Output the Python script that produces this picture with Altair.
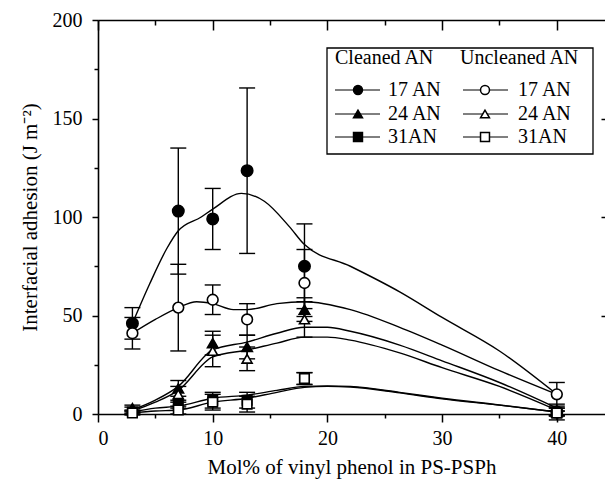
import altair as alt
import pandas as pd

# ---------------- data ----------------
x_pts = [3, 7, 10, 13, 18, 40]

cleaned_17 = [46, 103, 99, 123.5, 75, 1]
cleaned_17_err = [8, 32, 15.5, 42, 21.5, 4]
uncleaned_17 = [41, 54, 58, 48, 66.5, 10]
uncleaned_17_err = [8, 22, 7.5, 8, 17, 6]
cleaned_24 = [3, 13, 36, 34, 53, 1]
cleaned_24_err = [1.5, 4, 6, 6, 6, 2]
uncleaned_24 = [2, 10, 32, 28, 48, 1]
uncleaned_24_err = [1.5, 4, 8, 6, 9, 2]
cleaned_31 = [1, 5, 7, 7, 18, 0.5]
cleaned_31_err = [1, 2, 4, 4, 3, 1]
uncleaned_31 = [0.5, 2, 6, 5, 18, 0.5]
uncleaned_31_err = [1, 2, 4, 4, 3, 1]

# fitted curves
curve_x_c17 = [3, 4.5, 6, 7, 9, 10, 12.5, 14.5, 16.7, 18, 22, 26.3, 30, 35, 40]
curve_c17 = [46, 66, 84, 93, 100, 104, 112, 108, 95, 86, 75, 62, 49, 32, 10]
curve_x_u17 = [3, 5, 7, 8.6, 10, 11.8, 13, 15.6, 18, 22, 26.3, 30, 35, 40]
curve_u17 = [41, 48, 54, 57, 56, 53, 53, 56, 57, 53, 44, 35, 22, 10]
curve_x = [3, 5, 7, 10, 13, 15.6, 18, 20, 22, 26.3, 30, 35, 40]
curve_c24 = [2, 7, 14, 32.5, 36.5, 41, 44, 44, 42, 35, 27, 16, 3]
curve_u24 = [1.5, 6, 12, 29, 32.5, 36, 39, 39, 37.5, 31, 23.5, 14, 2]
curve_c31 = [1, 3, 4, 8, 9.6, 12, 14, 14.3, 14, 11, 8, 4.6, 1]
curve_u31 = [0.5, 1.5, 2, 6, 8, 11, 13.5, 14, 13.7, 10.7, 7.7, 4.5, 1]

x_major = [0, 10, 20, 30, 40]
x_minor = [5, 15, 25, 35]
y_major = [0, 50, 100, 150, 200]
y_minor = [25, 75, 125, 175]

legend_headers = ["Cleaned AN", "Uncleaned AN"]
legend_labels = ["17 AN", "24 AN", "31AN"]

x_title = "Mol% of vinyl phenol in PS-PSPh"
y_title = "Interfacial adhesion (J m\u207b\u00b2)"

# ---------------- styling ----------------
FONT = "Liberation Serif"
W, H = 507, 394
XS = alt.Scale(domain=[0, 44.2], nice=False, zero=False)
YS = alt.Scale(domain=[0, 200], nice=False, zero=False)

series = [
    (cleaned_17, cleaned_17_err, "circle", "black", 130),
    (uncleaned_17, uncleaned_17_err, "circle", "white", 115),
    (cleaned_24, cleaned_24_err, "triangle-up", "black", 110),
    (uncleaned_24, uncleaned_24_err, "triangle-up", "white", 100),
    (cleaned_31, cleaned_31_err, "square", "black", 90),
    (uncleaned_31, uncleaned_31_err, "square", "white", 90),
]
curves = [
    (curve_x_c17, curve_c17), (curve_x_u17, curve_u17),
    (curve_x, curve_c24), (curve_x, curve_u24),
    (curve_x, curve_c31), (curve_x, curve_u31),
]

layers = []

# curves
for cx, cy in curves:
    df = pd.DataFrame({"x": cx, "y": cy})
    layers.append(
        alt.Chart(df).mark_line(color="black", strokeWidth=1.4, interpolate="monotone").encode(
            x=alt.X("x:Q", scale=XS, axis=None),
            y=alt.Y("y:Q", scale=YS, axis=None),
        )
    )

# error bars
for vals, errs, shape, fill, size in series:
    df = pd.DataFrame({
        "x": x_pts,
        "lo": [v - e for v, e in zip(vals, errs)],
        "hi": [v + e for v, e in zip(vals, errs)],
    })
    base = alt.Chart(df)
    layers.append(
        base.mark_rule(color="black", strokeWidth=1.4).encode(
            x=alt.X("x:Q", scale=XS, axis=None),
            y=alt.Y("lo:Q", scale=YS, axis=None),
            y2="hi:Q",
        )
    )
    for end in ["lo", "hi"]:
        layers.append(
            base.mark_rule(color="black", strokeWidth=1.4, xOffset=-8, x2Offset=8).encode(
                x=alt.X("x:Q", scale=XS, axis=None),
                x2="x:Q",
                y=alt.Y(f"{end}:Q", scale=YS, axis=None),
            )
        )

# points
for vals, errs, shape, fill, size in series:
    df = pd.DataFrame({"x": x_pts, "y": vals})
    layers.append(
        alt.Chart(df).mark_point(shape=shape, filled=True, fill=fill, stroke="black",
                                 strokeWidth=1.6, size=size, opacity=1).encode(
            x=alt.X("x:Q", scale=XS, axis=None),
            y=alt.Y("y:Q", scale=YS, axis=None),
        )
    )

# ---------------- axes (separate layers, independent axes on shared scales) ----------------
dummy = pd.DataFrame({"x": [0], "y": [0]})
def axis_layer(xaxis=None, yaxis=None):
    enc = {}
    if xaxis is not None:
        enc["x"] = alt.X("x:Q", scale=XS, axis=xaxis, title=xaxis.to_dict().get("title", ""))
    if yaxis is not None:
        enc["y"] = alt.Y("y:Q", scale=YS, axis=yaxis, title=yaxis.to_dict().get("title", ""))
    return alt.Chart(dummy).mark_point(opacity=0).encode(**enc)

layers.append(axis_layer(
    alt.Axis(orient="bottom", values=x_major, tickSize=8, tickWidth=1.5, domainWidth=1.6,
             labelPadding=6, title=x_title, titlePadding=8, grid=False, format="d"),
    alt.Axis(orient="left", values=y_major, tickSize=6, tickWidth=1.5, domainWidth=1.6,
             labelPadding=10, title=y_title, titlePadding=12, grid=False, format="d"),
))
layers.append(axis_layer(
    alt.Axis(orient="bottom", values=x_minor, tickSize=4, tickWidth=1.5, domain=False,
             labels=False, title="", grid=False),
    alt.Axis(orient="left", values=y_minor, tickSize=4, tickWidth=1.5, domain=False,
             labels=False, title="", grid=False),
))
layers.append(axis_layer(
    alt.Axis(orient="top", ticks=False, labels=False, domainWidth=1.6, title="", grid=False),
    alt.Axis(orient="right", values=[50, 100, 150], offset=-4, tickSize=4, tickWidth=1.5,
             domain=False, labels=False, title="", grid=False),
))
layers.append(axis_layer(
    alt.Axis(orient="top", values=x_major, offset=-10, tickSize=10, tickWidth=1.5,
             domain=False, labels=False, title="", grid=False),
))
layers.append(axis_layer(
    alt.Axis(orient="top", values=x_minor, offset=-5, tickSize=5, tickWidth=1.5,
             domain=False, labels=False, title="", grid=False),
))

# ---------------- legend (drawn in pixel space of the plot area) ----------------
box = pd.DataFrame({"x1": [229], "x2": [495], "y1": [28], "y2": [134]})
layers.append(
    alt.Chart(box).mark_rect(fill="white", stroke="black", strokeWidth=1.3).encode(
        x=alt.X("x1:Q", scale=None), x2="x2:Q",
        y=alt.Y("y1:Q", scale=None), y2="y2:Q",
    )
)
row_y = [70, 94, 117]
col_line = [(237, 282, 260, 290), (365, 410, 387, 420)]
shapes = ["circle", "triangle-up", "square"]
fills = ["black", "white"]
seg_rows, pt_rows, txt_rows = [], [], []
for ci, (lx1, lx2, mx, tx) in enumerate(col_line):
    for ri, ry in enumerate(row_y):
        seg_rows.append({"x1": lx1, "x2": lx2, "y": ry})
        pt_rows.append({"x": mx, "y": ry, "shape": shapes[ri], "fill": fills[ci]})
        txt_rows.append({"x": tx, "y": ry, "t": legend_labels[ri]})
txt_rows.append({"x": 237, "y": 38, "t": legend_headers[0]})
txt_rows.append({"x": 362, "y": 38, "t": legend_headers[1]})

layers.append(
    alt.Chart(pd.DataFrame(seg_rows)).mark_rule(color="black", strokeWidth=1).encode(
        x=alt.X("x1:Q", scale=None), x2="x2:Q", y=alt.Y("y:Q", scale=None),
    )
)
layers.append(
    alt.Chart(pd.DataFrame(pt_rows)).mark_point(filled=True, stroke="black", strokeWidth=1.5,
                                                 size=80, opacity=1).encode(
        x=alt.X("x:Q", scale=None), y=alt.Y("y:Q", scale=None),
        shape=alt.Shape("shape:N", scale=None),
        fill=alt.Fill("fill:N", scale=None),
    )
)
layers.append(
    alt.Chart(pd.DataFrame(txt_rows)).mark_text(align="left", baseline="middle", font=FONT,
                                                 fontSize=20, color="black").encode(
        x=alt.X("x:Q", scale=None), y=alt.Y("y:Q", scale=None), text="t:N",
    )
)

chart = alt.layer(*layers).resolve_axis(x="independent", y="independent").properties(
    width=W, height=H,
    autosize=alt.AutoSizeParams(type="none"),
    padding={"left": 98, "top": 20, "right": 0, "bottom": 67},
).configure_view(stroke=None).configure_axis(
    labelFont=FONT, titleFont=FONT, labelFontSize=20, titleFontSize=21,
    titleFontWeight="normal", labelColor="black", titleColor="black",
    tickColor="black", domainColor="black",
)

chart.save("out.html", embed_options={"renderer": "svg", "actions": False})
